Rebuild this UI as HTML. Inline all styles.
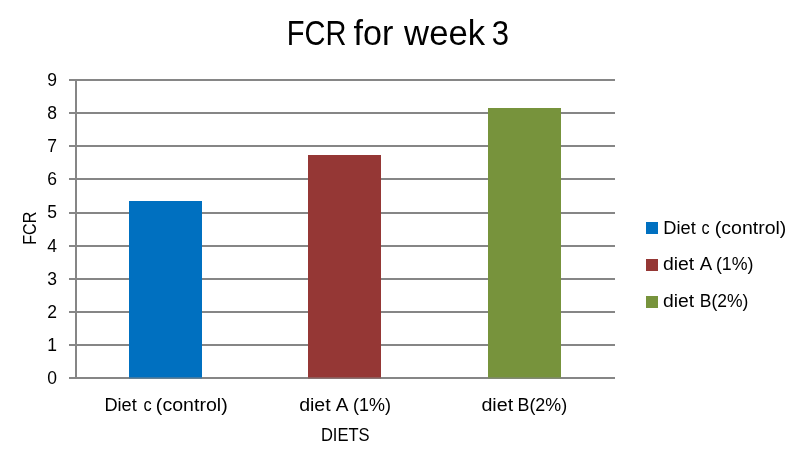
<!DOCTYPE html>
<html>
<head>
<meta charset="utf-8">
<title>FCR for week 3</title>
<style>
  html, body { margin: 0; padding: 0; background: #ffffff; }
  body { width: 800px; height: 460px; overflow: hidden; }
  svg { display: block; will-change: transform; }
  text { font-family: "Liberation Sans", sans-serif; fill: #000000; }
  .grid { fill: #868686; }
  .lbl { font-size: 17.5px; }
</style>
</head>
<body>
<svg width="800" height="460" viewBox="0 0 800 460">
  <rect x="0" y="0" width="800" height="460" fill="#ffffff"/>

  <!-- gridlines and axes -->
  <g class="grid" shape-rendering="crispEdges">
    <rect x="69" y="79" width="546" height="2"/>
    <rect x="69" y="112" width="546" height="2"/>
    <rect x="69" y="145" width="546" height="2"/>
    <rect x="69" y="178" width="546" height="2"/>
    <rect x="69" y="212" width="546" height="2"/>
    <rect x="69" y="245" width="546" height="2"/>
    <rect x="69" y="278" width="546" height="2"/>
    <rect x="69" y="311" width="546" height="2"/>
    <rect x="69" y="344" width="546" height="2"/>
    <rect x="69" y="377" width="546" height="2"/>
    <rect x="75" y="79" width="2" height="300"/>
  </g>

  <!-- bars -->
  <g shape-rendering="crispEdges">
    <rect x="129" y="201" width="73" height="176" fill="#0070c0"/>
    <rect x="308" y="155" width="73" height="222" fill="#953735"/>
    <rect x="488" y="108" width="73" height="269" fill="#77933c"/>
    <rect x="129" y="377" width="73" height="1" fill="#0070c0" fill-opacity="0.55"/>
    <rect x="308" y="377" width="73" height="1" fill="#953735" fill-opacity="0.55"/>
    <rect x="488" y="377" width="73" height="1" fill="#77933c" fill-opacity="0.55"/>
    <rect x="129" y="378" width="73" height="1" fill="#0070c0" fill-opacity="0.25"/>
    <rect x="308" y="378" width="73" height="1" fill="#953735" fill-opacity="0.25"/>
    <rect x="488" y="378" width="73" height="1" fill="#77933c" fill-opacity="0.25"/>
  </g>

  <!-- chart title -->
  <text id="title" transform="translate(0 44.70) scale(1 1.030)" y="0" font-size="34"><tspan x="286.83" textLength="59.70" lengthAdjust="spacingAndGlyphs">FCR</tspan> <tspan x="353.49" textLength="39.82" lengthAdjust="spacingAndGlyphs">for</tspan> <tspan x="404.12" textLength="80.91" lengthAdjust="spacingAndGlyphs">week</tspan> <tspan x="491.85" textLength="17.27" lengthAdjust="spacingAndGlyphs">3</tspan></text>

  <!-- y tick labels -->
  <g class="lbl" text-anchor="end">
    <text x="56.9" y="86.00">9</text>
    <text x="56.9" y="119.11">8</text>
    <text x="56.9" y="152.22">7</text>
    <text x="56.9" y="185.33">6</text>
    <text x="56.9" y="218.44">5</text>
    <text x="56.9" y="251.56">4</text>
    <text x="56.9" y="284.67">3</text>
    <text x="56.9" y="317.78">2</text>
    <text x="56.9" y="350.89">1</text>
    <text x="56.9" y="384.00">0</text>
  </g>

  <!-- y axis title -->
  <text transform="translate(36.0 244.75) rotate(-90) scale(0.9211 1.0692)" font-size="17.5">FCR</text>

  <!-- category labels -->
  <g id="cats">
    <text y="410.50" font-size="17.5"><tspan x="104.42" textLength="32.31" lengthAdjust="spacingAndGlyphs">Diet</tspan> <tspan x="143.49" textLength="8.18" lengthAdjust="spacingAndGlyphs">c</tspan> <tspan x="155.86" textLength="71.80" lengthAdjust="spacingAndGlyphs">(control)</tspan></text>
    <text y="410.50" font-size="17.5"><tspan x="299.16" textLength="31.53" lengthAdjust="spacingAndGlyphs">diet</tspan> <tspan x="335.71" textLength="11.69" lengthAdjust="spacingAndGlyphs">A</tspan> <tspan x="353.05" textLength="37.92" lengthAdjust="spacingAndGlyphs">(1%)</tspan></text>
    <text y="410.50" font-size="17.5"><tspan x="481.41" textLength="31.78" lengthAdjust="spacingAndGlyphs">diet</tspan> <tspan x="517.50" textLength="49.61" lengthAdjust="spacingAndGlyphs">B(2%)</tspan></text>
  </g>
  <!-- x axis title -->
  <text y="440.80" font-size="17.5"><tspan x="320.91" textLength="48.73" lengthAdjust="spacingAndGlyphs">DIETS</tspan></text>

  <!-- legend -->
  <g shape-rendering="crispEdges">
    <rect x="646" y="222" width="12" height="12" fill="#0070c0"/>
    <rect x="646" y="259" width="12" height="12" fill="#953735"/>
    <rect x="646" y="296" width="12" height="12" fill="#77933c"/>
  </g>
  <g id="legend">
    <text y="233.50" font-size="17.5"><tspan x="663.37" textLength="32.42" lengthAdjust="spacingAndGlyphs">Diet</tspan> <tspan x="701.40" textLength="8.06" lengthAdjust="spacingAndGlyphs">c</tspan> <tspan x="714.86" textLength="71.49" lengthAdjust="spacingAndGlyphs">(control)</tspan></text>
    <text y="270.30" font-size="17.5"><tspan x="662.92" textLength="31.27" lengthAdjust="spacingAndGlyphs">diet</tspan> <tspan x="699.72" textLength="11.43" lengthAdjust="spacingAndGlyphs">A</tspan> <tspan x="715.96" textLength="37.55" lengthAdjust="spacingAndGlyphs">(1%)</tspan></text>
    <text y="307.30" font-size="17.5"><tspan x="662.92" textLength="31.17" lengthAdjust="spacingAndGlyphs">diet</tspan> <tspan x="699.78" textLength="48.60" lengthAdjust="spacingAndGlyphs">B(2%)</tspan></text>
  </g>
</svg>
</body>
</html>
